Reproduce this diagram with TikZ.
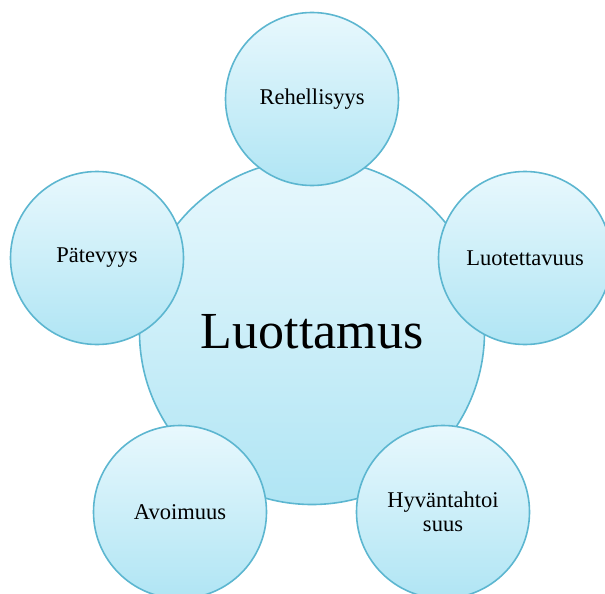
\documentclass[tikz,border=0pt]{standalone}
\usepackage{fontspec}
\setmainfont{Liberation Serif}
\definecolor{rim}{HTML}{5CB6D0}
\definecolor{filltop}{HTML}{E8F8FD}
\definecolor{fillbot}{HTML}{B0E5F4}
\tikzset{
  bubble/.style={circle, draw=rim, line width=1.6pt, top color=filltop, bottom color=fillbot, inner sep=0pt, align=center, font=\fontsize{22.5}{24}\selectfont},
  sat/.style={bubble, minimum size=173pt},
  hub/.style={bubble, minimum size=345pt, font=\fontsize{52}{56}\selectfont}
}
\begin{document}
\begin{tikzpicture}[x=1pt,y=-1pt]
\useasboundingbox (0,0) rectangle (605,594);
\node[hub] (hub) at (312,332) {Luottamus};
\node[sat] (reh) at (312,99) {Rehellisyys};
\node[sat] (pat) at (97,258) {Pätevyys};
\node[sat] (luo) at (525,258) {Luotettavuus};
\node[sat] (avo) at (180,512) {Avoimuus};
\node[sat] (hyv) at (443,512) {Hyväntahtoi\\suus};
\end{tikzpicture}
\end{document}
